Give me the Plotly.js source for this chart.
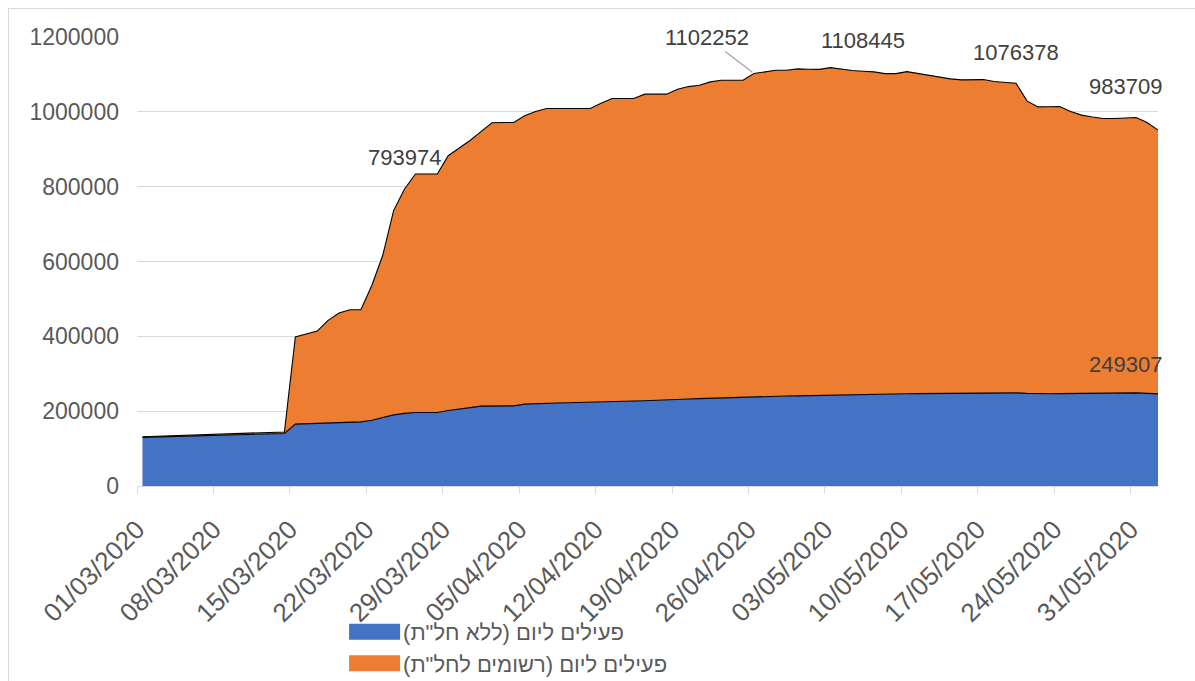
<!DOCTYPE html>
<html><head><meta charset="utf-8">
<script src="https://cdn.plot.ly/plotly-3.0.1.min.js"></script>
<style>
html,body{margin:0;padding:0;background:#fff;}
#chart{width:1195px;height:681px;}
#frame{position:absolute;left:8px;top:8px;width:1187px;height:673px;border-left:1px solid #d9d9d9;border-top:1px solid #d9d9d9;pointer-events:none;}
</style>
</head><body>
<div id="chart"></div><div id="frame"></div>
<script>
// first day of the series (daily data)
const firstDay = [2020, 2, 1];
const dayCount = 94;

// פעילים ליום (ללא חל"ת) – active, without unpaid leave
const activeNoLeave = [
  129900,130700,131500,132300,133000,133600,134200,134800,135500,136300,
  137200,138200,139300,140500,165300,166500,167700,168800,169800,170700,
  171500,175500,183000,190000,194000,196500,196500,196500,202000,206500,
  209500,213500,214000,214000,214200,218700,220300,221300,221800,222300,
  222800,223200,224500,225800,226500,227000,228000,228700,229300,231000,
  232500,233500,234500,235500,236500,237500,239000,240000,240300,240600,
  240800,241500,242500,243500,244000,244500,245000,245400,245800,246200,
  246500,246900,247300,247700,248200,248800,248800,248800,248800,249000,
  249000,247500,246200,246500,246800,247000,247200,247800,248300,248800,
  249307,248800,247500,246200
];

// total active (top of the stacked area: without leave + registered for unpaid leave)
const activeTotal = [
  131500,132500,133500,134500,135500,136000,136500,137500,138500,139500,
  140500,142000,143500,144500,398100,406000,414000,442700,462200,471100,
  471100,536000,616000,736000,793974,833900,833900,833900,882700,902600,
  923500,947000,970700,971500,971500,989300,1000800,1008800,1008800,1008800,
  1008800,1008800,1023200,1035500,1035500,1035500,1047200,1047200,1047200,1060500,
  1067500,1071200,1080000,1084500,1084500,1084500,1102252,1107500,1111200,1111200,
  1114700,1114000,1113500,1118200,1114000,1110500,1108445,1106700,1102200,1102200,
  1107500,1102600,1097800,1091500,1088000,1085300,1085300,1086200,1080900,1077700,
  1076378,1029300,1013300,1013500,1014100,1000800,991200,986000,982200,982200,
  983709,984900,971500,951200
];

const seriesNames = ['פעילים ליום (ללא חל"ת)', 'פעילים ליום (רשומים לחל"ת)'];
const seriesColors = ['#4472C4', '#ED7D31'];
const totalLabelIdx = [24, 56, 66, 80, 90];
const blueLabelIdx = [90];

const dates = [];
for (let i = 0; i < dayCount; i++) {
  const d = new Date(Date.UTC(firstDay[0], firstDay[1], firstDay[2] + i));
  dates.push(d.toISOString().slice(0, 10) + ' 12:00');
}

const font = 'Liberation Sans, Arial, sans-serif';
const txt = '#595959';
const lblFont = {family: font, size: 22, color: '#404040'};

const traces = [
  {x: dates, y: activeNoLeave, type: 'scatter', mode: 'lines', name: seriesNames[0],
   fill: 'tozeroy', fillcolor: seriesColors[0], line: {color: '#000', width: 1.1}},
  {x: dates, y: activeTotal, type: 'scatter', mode: 'lines', name: seriesNames[1],
   fill: 'tonexty', fillcolor: seriesColors[1], line: {color: '#000', width: 1.1}}
];

const annotations = [];
totalLabelIdx.forEach(i => {
  if (i === 56) {
    annotations.push({x: dates[i], y: activeTotal[i], text: String(activeTotal[i]),
      showarrow: true, arrowhead: 0, arrowwidth: 1.3, arrowcolor: '#a6a6a6', ax: -47, ay: -36,
      standoff: 2, font: lblFont});
  } else {
    annotations.push({x: dates[i], y: activeTotal[i], text: String(activeTotal[i]),
      showarrow: false, yshift: 31, font: lblFont});
  }
});
blueLabelIdx.forEach(i => {
  annotations.push({x: dates[i], y: activeNoLeave[i], text: String(activeNoLeave[i]),
    showarrow: false, yshift: 28, font: lblFont});
});

const layout = {
  width: 1195, height: 681,
  margin: {l: 137, r: 37, t: 37, b: 195},
  paper_bgcolor: '#fff', plot_bgcolor: '#fff',
  showlegend: true,
  hovermode: false,
  font: {family: font, color: txt},
  xaxis: {
    type: 'date', automargin: false,
    range: ['2020-03-01 00:00', '2020-06-02 12:00'],
    tick0: '2020-03-01', dtick: 7 * 86400000,
    tickformat: '%d/%m/%Y', tickangle: -45,
    tickfont: {family: font, size: 26, color: txt},
    ticks: 'outside', ticklen: 7, tickcolor: '#d9d9d9', tickwidth: 1, ticklabelstandoff: 10,
    showline: true, linecolor: '#d9d9d9', linewidth: 1,
    showgrid: false, zeroline: false, fixedrange: true
  },
  yaxis: {
    automargin: false,
    range: [0, 1200000], dtick: 200000, tickformat: 'd',
    tickfont: {family: font, size: 23, color: txt},
    showgrid: true, gridcolor: '#d9d9d9', gridwidth: 1,
    zeroline: false, showline: false, ticks: '', ticklabelstandoff: 17, fixedrange: true
  },
  legend: {
    orientation: 'v', xref: 'paper', yref: 'container',
    x: 0.195, y: 0.103, xanchor: 'left', yanchor: 'top',
    traceorder: 'normal', font: {family: font, size: 22, color: txt},
    bgcolor: 'rgba(0,0,0,0)', tracegroupgap: 0, itemwidth: 57
  },
  annotations: annotations
};

Plotly.newPlot('chart', traces, layout, {displayModeBar: false, staticPlot: true}).then(gd => {
  // Excel-style legend keys: plain filled rectangles
  gd.querySelectorAll('.legend .traces').forEach(g => {
    const fill = g.querySelector('.legendfill path');
    if (fill) { fill.setAttribute('d', 'M13,-8h51v16h-51z'); fill.style.stroke = 'none'; }
    g.querySelectorAll('.legendlines path').forEach(p => p.style.display = 'none');
  });
});
</script>
</body></html>
